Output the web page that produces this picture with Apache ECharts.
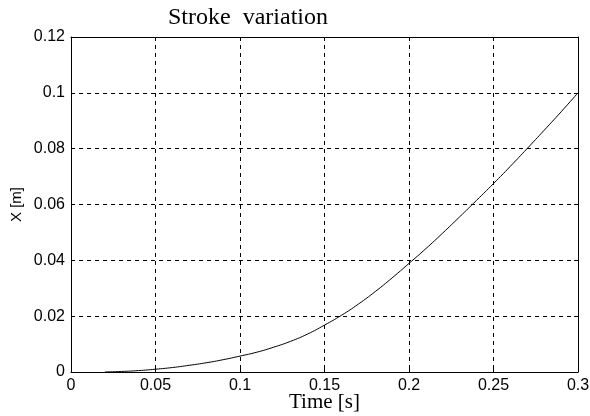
<!DOCTYPE html>
<html><head><meta charset="utf-8">
<script src="https://cdn.jsdelivr.net/npm/echarts@6/dist/echarts.min.js"></script>
<style>html,body{margin:0;padding:0;background:#fff}#c{width:590px;height:416px}</style>
</head><body><div id="c"></div>
<script>
var timeValues = [0.02,0.03,0.04,0.05,0.06,0.07,0.08,0.09,0.10,0.11,0.12,0.13,0.14,0.15,0.16,0.17,0.18,0.19,0.20,0.21,0.22,0.23,0.24,0.25,0.26,0.27,0.28,0.29,0.30];
var strokeValues = [0,0.0002,0.0005,0.001,0.0016,0.0024,0.0033,0.0044,0.0057,0.0071,0.0089,0.0110,0.0136,0.0168,0.0203,0.0243,0.0288,0.0337,0.0389,0.0442,0.0498,0.0556,0.0615,0.0675,0.0737,0.0801,0.0866,0.0932,0.1];
var title = 'Stroke  variation';
var xName = 'Time [s]';
var yName = 'X [m]';

var data = timeValues.map(function(t,i){return [t, strokeValues[i]];});
var chart = echarts.init(document.getElementById('c'), null, {renderer:'canvas'});
var hiddenAxis = {axisLabel:{show:false},splitLine:{show:false},axisTick:{show:true,inside:true,length:4,lineStyle:{color:'#000'}},axisLine:{show:true,onZero:false,lineStyle:{color:'#000',width:1}}};
chart.setOption({
  animation:false,
  backgroundColor:'#fff',
  title:{text:title,left:163,top:1,textStyle:{fontFamily:'Liberation Serif',fontSize:24,fontWeight:'normal',color:'#000'}},
  grid:{left:71,right:12,top:37,bottom:44,show:false,containLabel:false,outerBoundsMode:'none'},
  xAxis:[{type:'value',min:0,max:0.3,interval:0.05,
    name:xName,nameLocation:'middle',nameGap:20,nameMoveOverlap:false,
    nameTextStyle:{fontFamily:'Liberation Serif',fontSize:21,color:'#000'},
    axisLine:{show:true,onZero:false,lineStyle:{color:'#000',width:1}},
    axisTick:{show:true,inside:true,length:4,lineStyle:{color:'#000'}},
    axisLabel:{fontFamily:'Liberation Sans',fontSize:16,color:'#000',margin:6},
    splitLine:{show:true,lineStyle:{color:'#000',type:[4,4],width:1}}},
    Object.assign({type:'value',position:'top',min:0,max:0.3,interval:0.05},hiddenAxis)],
  yAxis:[{type:'value',min:0,max:0.12,interval:0.02,
    name:yName,nameLocation:'middle',nameGap:47,nameRotate:90,nameMoveOverlap:false,
    nameTextStyle:{fontFamily:'Liberation Sans',fontSize:15,color:'#000'},
    axisLine:{show:true,onZero:false,lineStyle:{color:'#000',width:1}},
    axisTick:{show:true,inside:true,length:4,lineStyle:{color:'#000'}},
    axisLabel:{fontFamily:'Liberation Sans',fontSize:16,color:'#000',margin:6},
    splitLine:{show:true,lineStyle:{color:'#000',type:[4,4],width:1}}},
    Object.assign({type:'value',position:'right',min:0,max:0.12,interval:0.02},hiddenAxis)],
  series:[{type:'line',data:data,smooth:true,showSymbol:false,lineStyle:{color:'#000',width:1}}]
});
</script></body></html>
